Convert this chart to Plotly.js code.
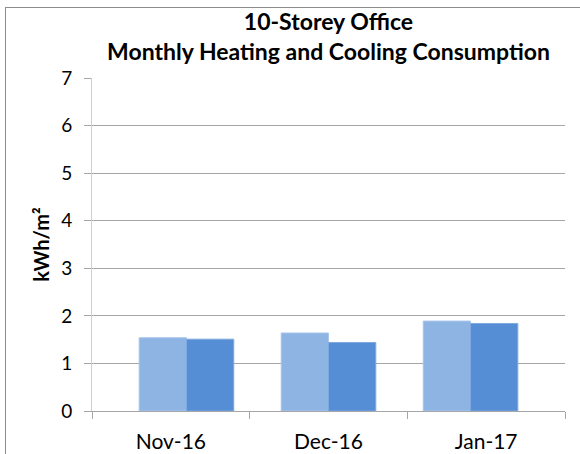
<!DOCTYPE html>
<html>
<head>
<meta charset="utf-8">
<script src="https://cdn.plot.ly/plotly-3.0.1.min.js"></script>
<style>
  html, body { margin: 0; padding: 0; background: #ffffff; }
  #chart { width: 580px; height: 454px; position: absolute; left: 0; top: 0; }
  #frame { position: absolute; left: 5px; top: 7px; width: 620px; height: 500px;
           border-left: 1px solid #8c8c8c; border-top: 1px solid #8c8c8c; pointer-events: none; }
</style>
</head>
<body>
<div id="chart"></div>
<div id="frame"></div>
<script>
const months = ["Nov-16", "Dec-16", "Jan-17"];
const heating = [1.54, 1.64, 1.89];
const cooling = [1.51, 1.44, 1.84];
const yTicks = [0, 1, 2, 3, 4, 5, 6, 7];

const FONT = "Lato, 'Open Sans', sans-serif";

const traces = [
  {
    type: "bar", x: months, y: heating, name: "Heating",
    xaxis: "x", yaxis: "y",
    marker: { color: "#8EB4E3", line: { color: "#A9C6EC", width: 1 } },
    hoverinfo: "skip"
  },
  {
    type: "bar", x: months, y: cooling, name: "Cooling",
    xaxis: "x", yaxis: "y",
    marker: { color: "#558ED5", line: { color: "#7FA9E0", width: 1 } },
    hoverinfo: "skip"
  },
  {
    type: "scatter", mode: "markers", x: months, y: [0, 0, 0],
    xaxis: "x2", yaxis: "y", marker: { opacity: 0 }, showlegend: false, hoverinfo: "skip"
  }
];

const layout = {
  width: 580, height: 454,
  margin: { l: 92, r: 14.5, t: 78.3, b: 43, pad: 0 },
  paper_bgcolor: "#ffffff", plot_bgcolor: "#ffffff",
  showlegend: false,
  barmode: "group", bargap: 0.334, bargroupgap: 0,
  font: { family: FONT, color: "#000000" },
  title: {
    text: "<b>10-Storey Office<br>Monthly Heating and Cooling Consumption</b>",
    font: { family: FONT, size: 23, color: "#000000" },
    x: 0.5, xref: "paper", xanchor: "center",
    y: 1 - 30 / 454, yref: "container", yanchor: "top"
  },
  xaxis: {
    type: "category", range: [-0.665, 2.665],
    visible: false, fixedrange: true
  },
  xaxis2: {
    type: "category", overlaying: "x", side: "bottom", range: [-0.5, 2.5],
    tickson: "boundaries", ticks: "outside", ticklen: 7, tickcolor: "#a6a6a6", tickwidth: 1,
    showline: true, linecolor: "#a6a6a6", linewidth: 1, showgrid: false, zeroline: false,
    tickfont: { family: FONT, size: 21, color: "#000000" },
    ticklabelstandoff: 12, fixedrange: true
  },
  yaxis: {
    range: [0, 7], tickvals: yTicks, ticktext: yTicks.map(String),
    showgrid: true, gridcolor: "#a6a6a6", gridwidth: 1,
    showline: true, linecolor: "#cfcfcf", linewidth: 1,
    ticks: "outside", ticklen: 7, tickcolor: "#a6a6a6",
    zeroline: false,
    tickfont: { family: FONT, size: 19, color: "#000000" },
    ticklabelstandoff: 8,
    title: { text: "<b>kWh/m²</b>", font: { family: FONT, size: 20, color: "#000000" }, standoff: 6 },
    fixedrange: true
  }
};

Plotly.newPlot("chart", traces, layout, { displayModeBar: false, staticPlot: true });
</script>
</body>
</html>
